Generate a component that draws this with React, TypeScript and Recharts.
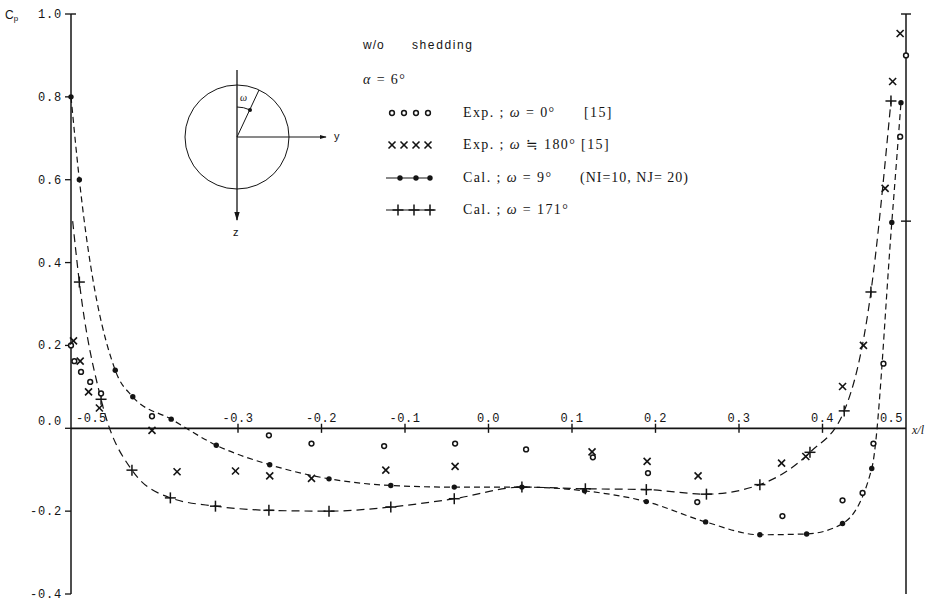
import React from 'react';
import { ComposedChart, Line, Scatter, XAxis, YAxis, ReferenceLine, ReferenceDot } from 'recharts';

// Exp. ; omega = 0 deg
const exp0X = [-0.5, -0.496, -0.488, -0.477, -0.464, -0.403, -0.263, -0.212, -0.125, -0.04, 0.045, 0.125, 0.191, 0.25, 0.352, 0.424, 0.448, 0.461, 0.473, 0.493, 0.5];
const exp0Y = [0.2, 0.162, 0.136, 0.112, 0.084, 0.029, -0.017, -0.037, -0.043, -0.037, -0.051, -0.07, -0.108, -0.178, -0.212, -0.174, -0.156, -0.037, 0.156, 0.704, 0.9];

// Exp. ; omega ~ 180 deg
const exp180X = [-0.497, -0.489, -0.479, -0.466, -0.403, -0.373, -0.303, -0.262, -0.212, -0.123, -0.04, 0.124, 0.19, 0.251, 0.351, 0.38, 0.424, 0.449, 0.475, 0.484, 0.493];
const exp180Y = [0.211, 0.162, 0.088, 0.049, -0.005, -0.105, -0.103, -0.115, -0.121, -0.101, -0.092, -0.057, -0.08, -0.115, -0.084, -0.068, 0.101, 0.2, 0.579, 0.837, 0.953];

// Cal. ; omega = 9 deg
const cal9X = [-0.5, -0.49, -0.447, -0.426, -0.38, -0.326, -0.262, -0.191, -0.117, -0.041, 0.04, 0.115, 0.189, 0.26, 0.325, 0.381, 0.424, 0.459, 0.483, 0.494];
const cal9Y = [0.8, 0.6, 0.14, 0.076, 0.022, -0.041, -0.088, -0.122, -0.138, -0.142, -0.142, -0.151, -0.177, -0.226, -0.257, -0.255, -0.23, -0.097, 0.497, 0.786];

// Cal. ; omega = 171 deg
const cal171X = [-0.498, -0.49, -0.464, -0.427, -0.381, -0.327, -0.263, -0.191, -0.117, -0.041, 0.04, 0.116, 0.189, 0.261, 0.325, 0.385, 0.426, 0.458, 0.482];
const cal171Y = [0.5, 0.353, 0.07, -0.101, -0.168, -0.188, -0.198, -0.2, -0.19, -0.17, -0.142, -0.146, -0.148, -0.159, -0.136, -0.058, 0.042, 0.329, 0.79];

const yTicks = [-0.4, -0.2, 0, 0.2, 0.4, 0.6, 0.8, 1.0];
const xTicks = [-0.3, -0.2, -0.1, 0.0, 0.1, 0.2, 0.3, 0.4];
const xTickLabels = ['-0.3', '-0.2', '-0.1', '0.0', '0.1', '0.2', '0.3', '0.4'];

const zip = (xs: number[], ys: number[]) => xs.map((x, i) => ({ x, y: ys[i] }));

const exp0 = zip(exp0X, exp0Y);
const exp180 = zip(exp180X, exp180Y);
const cal9 = zip(cal9X, cal9Y);
const cal171 = zip(cal171X, cal171Y);

const INK = '#141414';
const MONO = '"Liberation Mono", "DejaVu Sans Mono", monospace';
const SERIF = '"Liberation Serif", "DejaVu Serif", serif';
const SANS = '"Liberation Sans", "DejaVu Sans", sans-serif';

const Ring = ({ cx, cy }: any) => (
  <circle cx={cx} cy={cy} r={2.4} fill="#fff" stroke={INK} strokeWidth={1.5} />
);

const Cross = ({ cx, cy }: any) => (
  <g stroke={INK} strokeWidth={1.6}>
    <line x1={cx - 3.5} y1={cy - 3.5} x2={cx + 3.5} y2={cy + 3.5} />
    <line x1={cx - 3.5} y1={cy + 3.5} x2={cx + 3.5} y2={cy - 3.5} />
  </g>
);

const Dot = ({ cx, cy }: any) => <circle cx={cx} cy={cy} r={2.7} fill={INK} />;

const Plus = ({ cx, cy }: any) => (
  <g stroke={INK} strokeWidth={1.5}>
    <line x1={cx - 5.5} y1={cy} x2={cx + 5.5} y2={cy} />
    <line x1={cx} y1={cy - 5.5} x2={cx} y2={cy + 5.5} />
  </g>
);

// the first computed point of the 171 deg curve carries no marker
const renderPlus = (p: any) =>
  p.index === 0 ? <g key={`p-${p.index}`} /> : <Plus key={`p-${p.index}`} cx={p.cx} cy={p.cy} />;

const renderDot = (p: any) => <Dot key={`d-${p.index}`} cx={p.cx} cy={p.cy} />;

const YTick = ({ x, y, payload }: any) => {
  const v = payload.value as number;
  return (
    <text
      x={x}
      y={v === 0 ? y - 7 : y}
      dy={4}
      textAnchor="end"
      fontFamily={MONO}
      fontSize={12}
      letterSpacing={0.8}
      fill={INK}
    >
      {v.toFixed(1)}
    </text>
  );
};

const tickLabel = (text: string, anchor: 'start' | 'middle' | 'end', dx: number) => (p: any) => (
  <text
    x={p.cx + dx}
    y={p.cy - 6}
    textAnchor={anchor}
    fontFamily={MONO}
    fontSize={12}
    letterSpacing={0.5}
    fill={INK}
  >
    {text}
  </text>
);

const seg = 0.011;

// inset sketch of the cross-section and the text block
const Overlay = () => (
  <svg width={930} height={602} style={{ position: 'absolute', left: 0, top: 0, pointerEvents: 'none' }}>
    <defs>
      <marker id="arr" viewBox="0 0 10 10" refX="9" refY="5" markerWidth="7" markerHeight="7" orient="auto">
        <path d="M0,2 L10,5 L0,8 z" fill={INK} />
      </marker>
    </defs>
    <text x={5} y={19} fontFamily={SANS} fontSize={12} fill={INK}>
      C
      <tspan fontSize={8} dy={2}>p</tspan>
    </text>

    <g stroke={INK} fill="none" strokeWidth={1}>
      <circle cx={237} cy={137} r={52} />
      <line x1={237} y1={70} x2={237} y2={220} strokeWidth={1.3} markerEnd="url(#arr)" />
      <line x1={237} y1={137} x2={326} y2={137} markerEnd="url(#arr)" />
      <line x1={237} y1={137} x2={259} y2={90} />
      <path d="M237,107 A30,30 0 0,1 249.7,109.8" />
    </g>
    <circle cx={250} cy={110} r={2} fill={INK} />
    <text x={240} y={101} fontFamily={SERIF} fontStyle="italic" fontSize={10} fill={INK}>ω</text>
    <text x={334} y={140} fontFamily={SANS} fontSize={11} fill={INK}>y</text>
    <text x={233} y={236} fontFamily={SANS} fontSize={11} fill={INK}>z</text>

    <g fontFamily={SERIF} fontSize={14} fill={INK} letterSpacing={1.4}>
      <text x={363} y={49} fontFamily={SANS} fontSize={12} letterSpacing={1}>w/o</text>
      <text x={412} y={49} fontFamily={SANS} fontSize={12} letterSpacing={1.6}>shedding</text>
      <text x={363} y={84}><tspan fontStyle="italic">α</tspan> = 6°</text>

      <text x={463} y={117}>Exp. ; <tspan fontStyle="italic">ω</tspan> = 0°</text>
      <text x={584} y={117}>[15]</text>
      <text x={463} y={149}>Exp. ; <tspan fontStyle="italic">ω</tspan> ≒ 180° [15]</text>
      <text x={463} y={182}>Cal. ; <tspan fontStyle="italic">ω</tspan> = 9°</text>
      <text x={580} y={182} fontSize={14} letterSpacing={1}>(NI=10, NJ= 20)</text>
      <text x={463} y={214}>Cal. ; <tspan fontStyle="italic">ω</tspan> = 171°</text>
    </g>

    {[392, 404, 416, 428].map((x) => <Ring key={`r${x}`} cx={x} cy={113} />)}
    {[392, 404, 416, 428].map((x) => <Cross key={`c${x}`} cx={x} cy={145} />)}
    <line x1={386} y1={178} x2={432} y2={178} stroke={INK} strokeWidth={1.2} />
    {[400, 416, 430].map((x) => <Dot key={`d${x}`} cx={x} cy={178} />)}
    <line x1={386} y1={210} x2={434} y2={210} stroke={INK} strokeWidth={1.2} />
    {[398, 414, 430].map((x) => <Plus key={`p${x}`} cx={x} cy={210} />)}
  </svg>
);

export default function App() {
  return (
    <div style={{ position: 'absolute', left: 0, top: 0, width: 930, height: 602, background: '#fff' }}>
      <ComposedChart width={930} height={602} margin={{ top: 14, right: 24, bottom: 8, left: 11 }}>
        <XAxis dataKey="x" type="number" domain={[-0.5, 0.5]} hide />
        <YAxis
          dataKey="y"
          type="number"
          domain={[-0.4, 1.0]}
          ticks={yTicks}
          width={60}
          tickSize={6}
          tickMargin={3}
          axisLine={{ stroke: INK, strokeWidth: 1.5 }}
          tickLine={{ stroke: INK, strokeWidth: 1.3 }}
          tick={<YTick />}
          interval={0}
        />

        {/* x axis drawn through Cp = 0 */}
        <ReferenceLine y={0} stroke={INK} strokeWidth={1.8} />
        {xTicks.map((t) => (
          <ReferenceLine
            key={`xt${t}`}
            segment={[{ x: t, y: -seg }, { x: t, y: seg }]}
            stroke={INK}
            strokeWidth={1.4}
          />
        ))}
        {xTicks.map((t, i) => (
          <ReferenceDot key={`xl${t}`} x={t} y={0} r={1} shape={tickLabel(xTickLabels[i], 'middle', 0)} />
        ))}
        <ReferenceDot x={-0.5} y={0} r={1} shape={tickLabel('-0.5', 'start', 5)} />
        <ReferenceDot x={0.5} y={0} r={1} shape={tickLabel('0.5', 'end', -3)} />
        <ReferenceDot
          x={0.5}
          y={0}
          r={1}
          shape={(p: any) => (
            <text x={p.cx + 6} y={p.cy + 6} fontFamily={SERIF} fontStyle="italic" fontSize={12} fill={INK}>
              x/l
            </text>
          )}
        />

        {/* right-hand border axis */}
        <ReferenceLine x={0.5} stroke={INK} strokeWidth={1.5} />
        <ReferenceLine segment={[{ x: 0.494, y: 1.0 }, { x: 0.506, y: 1.0 }]} stroke={INK} strokeWidth={1.4} ifOverflow="visible" />
        <ReferenceLine segment={[{ x: 0.494, y: 0.5 }, { x: 0.506, y: 0.5 }]} stroke={INK} strokeWidth={1.4} ifOverflow="visible" />
        <ReferenceLine segment={[{ x: -0.5, y: 1.0 }, { x: -0.494, y: 1.0 }]} stroke={INK} strokeWidth={1.4} />

        <Line
          data={cal9}
          dataKey="y"
          type="monotone"
          stroke={INK}
          strokeWidth={1.2}
          strokeDasharray="6 4"
          dot={renderDot}
          activeDot={false}
          isAnimationActive={false}
        />
        <Line
          data={cal171}
          dataKey="y"
          type="monotone"
          stroke={INK}
          strokeWidth={1.2}
          strokeDasharray="8 5"
          dot={renderPlus}
          activeDot={false}
          isAnimationActive={false}
        />
        <Scatter data={exp0} shape={<Ring />} isAnimationActive={false} />
        <Scatter data={exp180} shape={<Cross />} isAnimationActive={false} />
      </ComposedChart>
      <Overlay />
    </div>
  );
}
